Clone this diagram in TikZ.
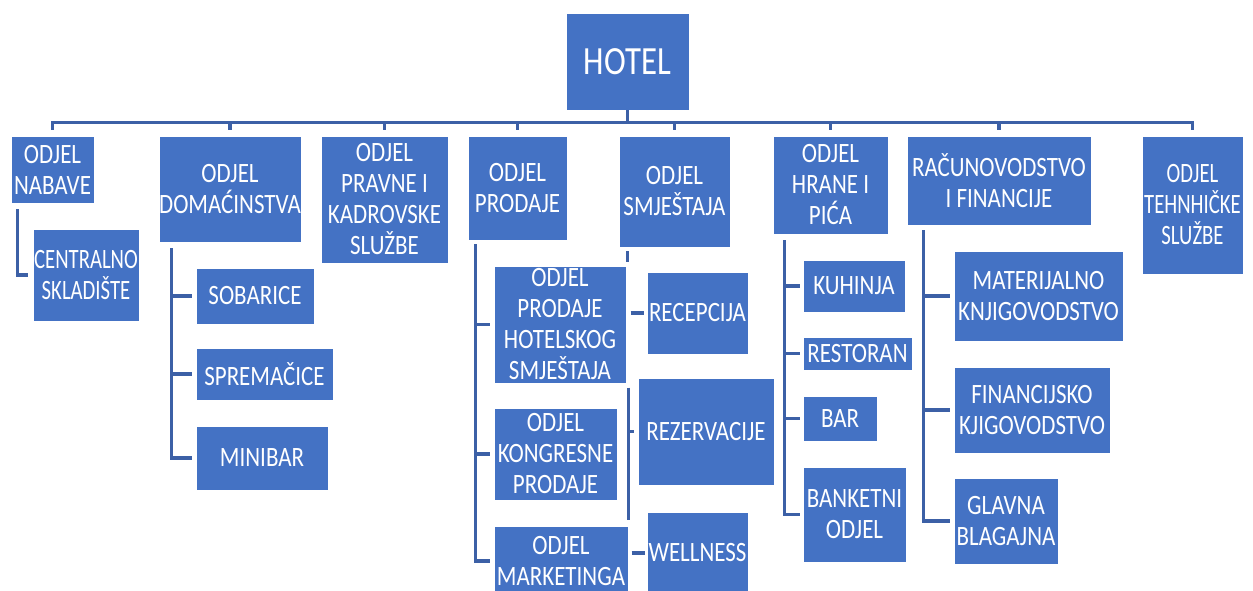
\documentclass[tikz,border=0pt]{standalone}
\usepackage{fontspec}
\setmainfont{Carlito}[FakeStretch=0.82]
\newfontfamily\narrowfont{Carlito}[FakeStretch=0.74]
\usetikzlibrary{calc}
\definecolor{boxblue}{RGB}{68,114,196}
\definecolor{linkblue}{RGB}{60,96,166}
\tikzset{
  unit/.style={draw=white, line width=0.8pt, fill=boxblue, text=white,
    align=center, inner sep=0pt, font=\fontsize{28}{31}\selectfont},
  narrow/.style={font=\narrowfont\fontsize{28}{31}\selectfont},
  link/.style={draw=linkblue, line width=3.5pt}
}
% box from its corners: [options], name, x1, y1, x2, y2, text
\newcommand{\orgbox}[7][]{%
  \node[unit, #1, minimum width={#5-#3}, minimum height={#6-#4}] (#2)
    at ({(#3+#5)/2},{(#4+#6)/2}) {#7};}

\begin{document}
\begin{tikzpicture}[x=1pt,y=-1pt]
  \useasboundingbox (0,0) rectangle (1253,591);
  \fill[white] (0,0) rectangle (1253,591);

  % Top of the hotel and its departments.
  \orgbox[font=\fontsize{40}{44}\selectfont]{hotel}{566}{13}{689}{110}{HOTEL}
  \orgbox{nabave}{11}{136}{94}{203}{ODJEL\\NABAVE}
  \orgbox{dom}{159}{136}{301}{242}{ODJEL\\DOMAĆINSTVA}
  \orgbox{pravne}{321}{136}{448}{263}{ODJEL\\PRAVNE I\\KADROVSKE\\SLUŽBE}
  \orgbox{prodaje}{468}{136}{567}{240}{ODJEL\\PRODAJE}
  \orgbox{smjestaj}{619}{136}{730}{247}{ODJEL\\SMJEŠTAJA}
  \orgbox{hrana}{773}{136}{888}{234}{ODJEL\\HRANE I\\PIĆA}
  \orgbox{racun}{907}{136}{1091}{225}{RAČUNOVODSTVO\\I FINANCIJE}
  \orgbox[narrow]{tehn}{1142}{136}{1243}{274}{ODJEL\\TEHNHIČKE\\SLUŽBE}

  % Sections under each department.
  \orgbox[narrow]{centralno}{33}{229}{139}{321}{CENTRALNO\\SKLADIŠTE}
  \orgbox{sobarice}{196}{268}{314}{324}{SOBARICE}
  \orgbox{spremacice}{196}{348}{333}{400}{SPREMAČICE}
  \orgbox{minibar}{196}{426}{328}{490}{MINIBAR}
  \orgbox{hotelski}{494}{266}{626}{383}{ODJEL\\PRODAJE\\HOTELSKOG\\SMJEŠTAJA}
  \orgbox{kongres}{494}{408}{617}{500}{ODJEL\\KONGRESNE\\PRODAJE}
  \orgbox{marketing}{494}{526}{628}{596}{ODJEL\\MARKETINGA}
  \orgbox{recepcija}{647}{272}{748}{354}{RECEPCIJA}
  \orgbox{rezerv}{638}{378}{774}{485}{REZERVACIJE}
  \orgbox{wellness}{647}{512}{748}{594}{WELLNESS}
  \orgbox{kuhinja}{803}{260}{905}{312}{KUHINJA}
  \orgbox{restoran}{803}{337}{912}{370}{RESTORAN}
  \orgbox{bar}{803}{396}{877}{441}{BAR}
  \orgbox{banket}{803}{467}{906}{562}{BANKETNI\\ODJEL}
  \orgbox{materijal}{954}{251}{1123}{341}{MATERIJALNO\\KNJIGOVODSTVO}
  \orgbox{financ}{954}{367}{1110}{453}{FINANCIJSKO\\KJIGOVODSTVO}
  \orgbox{blagajna}{954}{478}{1058}{564}{GLAVNA\\BLAGAJNA}

  % Bus from the hotel to the departments.
  \coordinate (bus) at ([yshift=-12pt]hotel.south);
  \draw[link] (hotel.south) -- (bus);
  \draw[link] ([yshift=6pt]nabave.north) -- (nabave.north |- bus) --
              (tehn.north |- bus) -- ([yshift=6pt]tehn.north);
  \foreach \d in {dom,pravne,prodaje,smjestaj,hrana,racun} {
    \draw[link] (\d.north |- bus) -- ([yshift=6pt]\d.north);
  }

  % Branches inside the departments.
  \draw[link] ([xshift=7pt,yshift=-6pt]nabave.south west) |-
              ([xshift=-5pt]centralno.west);

  \coordinate (domv) at ([xshift=13pt,yshift=-6pt]dom.south west);
  \draw[link] (domv) |- ([xshift=-4pt]minibar.west);
  \foreach \c in {sobarice,spremacice} {
    \draw[link] (domv |- \c.west) -- ([xshift=-4pt]\c.west);
  }

  \coordinate (prodv) at ([xshift=8pt,yshift=-4pt]prodaje.south west);
  \draw[link] (prodv) |- ([xshift=-4pt]marketing.west);
  \foreach \c in {hotelski,kongres} {
    \draw[link] (prodv |- \c.west) -- ([xshift=-4pt]\c.west);
  }

  \draw[link] ([xshift=9pt,yshift=-4pt]smjestaj.south west) -- ++(0,11);
  \draw[link] ([xshift=-16pt]recepcija.west) -- ([xshift=-3pt]recepcija.west);
  \draw[link] ([xshift=-9pt,yshift=-10pt]rezerv.north west) --
              ([xshift=-9pt,yshift=-35pt]rezerv.south west);
  \draw[link] ([xshift=-9pt]rezerv.west) -- ([xshift=-4pt]rezerv.west);
  \draw[link] ([xshift=-15pt]wellness.west) -- ([xshift=-2pt]wellness.west);

  \coordinate (hranav) at ([xshift=12pt,yshift=-6pt]hrana.south west);
  \draw[link] (hranav) |- ([xshift=-3pt]banket.west);
  \foreach \c in {kuhinja,restoran,bar} {
    \draw[link] (hranav |- \c.west) -- ([xshift=-3pt]\c.west);
  }

  \coordinate (racunv) at ([xshift=17pt,yshift=-5pt]racun.south west);
  \draw[link] (racunv) |- ([xshift=-4pt]blagajna.west);
  \foreach \c in {materijal,financ} {
    \draw[link] (racunv |- \c.west) -- ([xshift=-4pt]\c.west);
  }
\end{tikzpicture}
\end{document}
